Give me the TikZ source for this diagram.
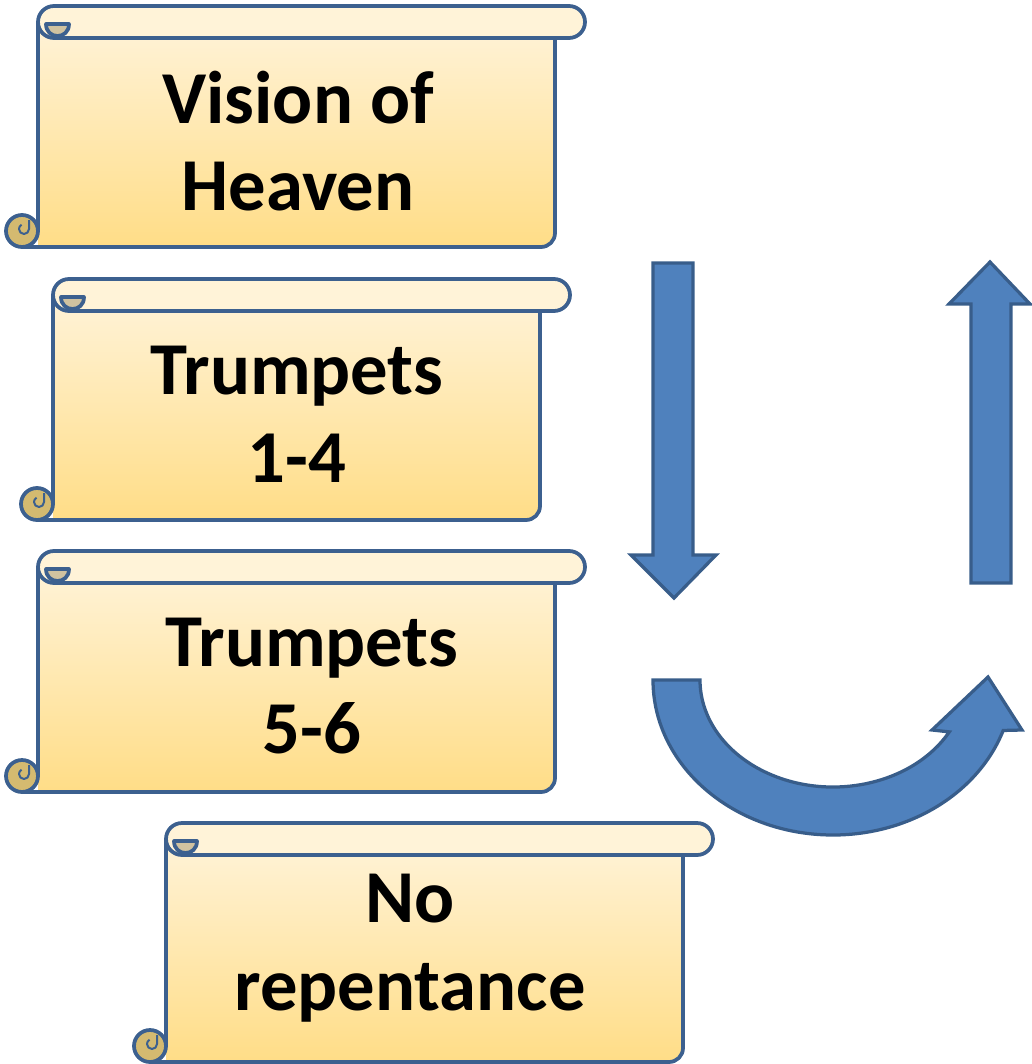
\documentclass[tikz,border=0pt]{standalone}
\usepackage{fontspec}
\setmainfont{Carlito}
\definecolor{scrollline}{RGB}{60,96,143}
\definecolor{scrolltop}{RGB}{255,243,216}
\definecolor{scrollbot}{RGB}{255,221,135}
\definecolor{curltop}{RGB}{208,194,160}
\definecolor{curlbot}{RGB}{212,186,112}
\definecolor{arrowfill}{RGB}{79,129,189}
\definecolor{arrowline}{RGB}{56,93,138}

\tikzset{
  scrolledge/.style={draw=scrollline, line width=0.075cm, line join=round},
  arrowshape/.style={fill=arrowfill, draw=arrowline, line width=0.065cm, line join=miter},
  scrolltext/.style={align=center, inner sep=0pt,
    font=\fontsize{42.5}{50}\selectfont\bfseries}
}

% #1 left, #2 top, #3 right, #4 bottom
\newcommand{\drawscroll}[4]{%
  \fill[top color=scrolltop, bottom color=scrollbot]
    (#1,{#2+16}) -- (#1,#4) -- ({#3-14},#4)
    arc[start angle=90, end angle=0, radius=14] -- (#3,{#2+16}) -- cycle;
  \filldraw[scrolledge, fill=curlbot] ({#1-16},{#4-16}) circle[radius=16];
  \draw[scrolledge, line width=0.04cm] ({#1-9},{#4-27}) -- ({#1-9},{#4-18})
    arc[start angle=0, end angle=240, radius=5];
  \draw[scrolledge] (#1,{#2+16}) -- (#1,{#4-16});
  \draw[scrolledge] ({#1-16},#4) -- ({#3-14},#4)
    arc[start angle=90, end angle=0, radius=14] -- (#3,{#2+32});
  \filldraw[scrolledge, fill=scrolltop] ({#1+16},#2) -- ({#3+14},#2)
    arc[start angle=-90, end angle=90, radius=16] -- ({#1+16},{#2+32})
    arc[start angle=90, end angle=270, radius=16] -- cycle;
  \filldraw[scrolledge, fill=curltop] ({#1+31},{#2+18})
    .. controls ({#1+31},{#2+34}) and ({#1+8},{#2+34}) .. ({#1+8},{#2+18}) -- cycle;
}

\begin{document}
\begin{tikzpicture}[x=0.02cm, y=-0.02cm]
  \useasboundingbox (0,0) rectangle (1031,1064);

  % scrolls
  \drawscroll{38}{6}{555}{247}
  \drawscroll{53}{279}{540}{520}
  \drawscroll{38}{551}{555}{792}
  \drawscroll{166}{823}{683}{1062}

  \node[scrolltext] (vision) at (298,141) {Vision of\\Heaven};
  \node[scrolltext] (trumpa) at (297,414) {Trumpets\\1-4};
  \node[scrolltext] (trumpb) at (312,686) {Trumpets\\5-6};
  \node[scrolltext] (norep) at (410,948) {No\\repentance};

  % arrows
  \draw[arrowshape] (653,263) -- (693,263) -- (693,555) -- (716,555)
    -- (674,598) -- (631,555) -- (653,555) -- cycle;
  \draw[arrowshape] (971,583) -- (1011,583) -- (1011,304) -- (1030,304)
    -- (990,262) -- (949,304) -- (971,304) -- cycle;
  \draw[arrowshape] (653,680)
    arc[start angle=180, end angle=19, x radius=180, y radius=155]
    -- (1022,730) -- (988,677) -- (932,730)
    -- ({833+133*cos(29)},{680+107*sin(29)})
    arc[start angle=29, end angle=180, x radius=133, y radius=107] -- cycle;
\end{tikzpicture}
\end{document}
